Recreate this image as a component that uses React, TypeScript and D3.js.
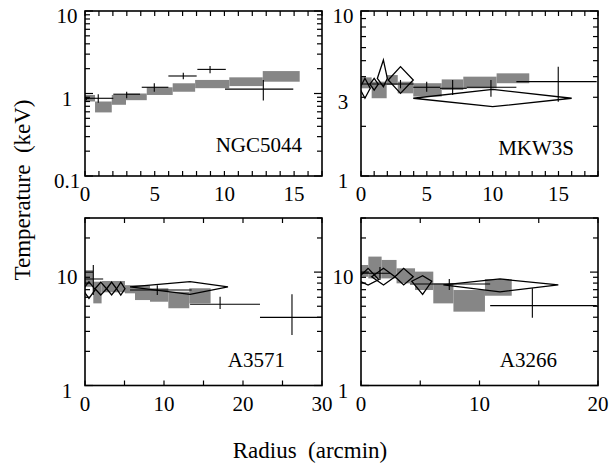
import React from 'react';
import * as d3 from 'd3';

const FONT = '"Liberation Serif", "Times New Roman", Times, serif';

type Box = { r0: number; r1: number; lo: number; hi: number };
type Cross = { r: number; r0: number; r1: number; t: number; lo: number; hi: number };
type Diamond = { r: number; r0: number; r1: number; t: number; lo: number; hi: number };

// ---------- NGC5044 ----------
const ngc5044Boxes: Box[] = [
  { r0: 0, r1: 0.72, lo: 0.8, hi: 0.96 },
  { r0: 0.72, r1: 1.92, lo: 0.59, hi: 0.8 },
  { r0: 1.92, r1: 2.94, lo: 0.73, hi: 0.96 },
  { r0: 2.94, r1: 4.43, lo: 0.83, hi: 1.0 },
  { r0: 4.43, r1: 6.29, lo: 0.96, hi: 1.19 },
  { r0: 6.29, r1: 7.9, lo: 1.05, hi: 1.33 },
  { r0: 7.9, r1: 10.35, lo: 1.16, hi: 1.46 },
  { r0: 10.35, r1: 12.75, lo: 1.23, hi: 1.57 },
  { r0: 12.75, r1: 15.4, lo: 1.39, hi: 1.87 },
];
const ngc5044Crosses: Cross[] = [
  { r: 0.1, r0: 0, r1: 0.3, t: 0.87, lo: 0.83, hi: 0.91 },
  { r: 0.95, r0: 0, r1: 2.03, t: 0.875, lo: 0.77, hi: 0.98 },
  { r: 2.99, r0: 2.03, r1: 3.95, t: 0.98, lo: 0.875, hi: 1.05 },
  { r: 4.97, r0: 4.07, r1: 5.98, t: 1.19, lo: 1.05, hi: 1.33 },
  { r: 7.05, r0: 5.98, r1: 8.01, t: 1.63, lo: 1.49, hi: 1.79 },
  { r: 8.97, r0: 8.06, r1: 10.1, t: 1.96, lo: 1.76, hi: 2.15 },
  { r: 12.79, r0: 10.04, r1: 14.94, t: 1.13, lo: 0.82, hi: 1.46 },
];
const ngc5044Diamonds: Diamond[] = [];

// ---------- MKW3S ----------
const mkw3sBoxes: Box[] = [
  { r0: 0, r1: 0.81, lo: 3.4, hi: 3.96 },
  { r0: 0.81, r1: 1.95, lo: 2.96, hi: 3.73 },
  { r0: 1.95, r1: 2.79, lo: 3.56, hi: 4.09 },
  { r0: 2.79, r1: 3.97, lo: 3.17, hi: 3.73 },
  { r0: 3.97, r1: 6.13, lo: 3.03, hi: 3.65 },
  { r0: 6.13, r1: 7.77, lo: 3.32, hi: 3.85 },
  { r0: 7.77, r1: 10.3, lo: 3.4, hi: 4.0 },
  { r0: 10.3, r1: 12.78, lo: 3.65, hi: 4.19 },
];
const mkw3sCrosses: Cross[] = [
  { r: 3.0, r0: 0, r1: 4.0, t: 3.61, lo: 3.4, hi: 3.82 },
  { r: 4.99, r0: 3.97, r1: 6.0, t: 3.45, lo: 3.24, hi: 3.73 },
  { r: 6.96, r0: 6.0, r1: 8.03, t: 3.4, lo: 3.1, hi: 3.82 },
  { r: 9.87, r0: 8.03, r1: 11.8, t: 3.45, lo: 3.02, hi: 3.82 },
  { r: 14.98, r0: 11.8, r1: 17.9, t: 3.73, lo: 2.82, hi: 4.6 },
];
const mkw3sDiamonds: Diamond[] = [
  { r: 0.3, r0: -0.1, r1: 0.7, t: 3.4, lo: 2.96, hi: 3.91 },
  { r: 1.0, r0: 0.68, r1: 1.31, t: 3.6, lo: 3.32, hi: 3.91 },
  { r: 1.7, r0: 1.24, r1: 2.0, t: 3.9, lo: 3.48, hi: 5.05 },
  { r: 3.0, r0: 2.07, r1: 3.97, t: 3.82, lo: 3.17, hi: 4.6 },
  { r: 10.0, r0: 3.97, r1: 16.0, t: 2.96, lo: 2.63, hi: 3.35 },
];

// ---------- A3571 ----------
const a3571Boxes: Box[] = [
  { r0: 0, r1: 1.05, lo: 7.43, hi: 10.4 },
  { r0: 1.05, r1: 2.1, lo: 5.3, hi: 8.23 },
  { r0: 2.1, r1: 5.06, lo: 6.64, hi: 8.35 },
  { r0: 5.06, r1: 6.33, lo: 6.5, hi: 7.67 },
  { r0: 6.33, r1: 8.23, lo: 5.67, hi: 7.67 },
  { r0: 8.23, r1: 10.55, lo: 5.48, hi: 7.2 },
  { r0: 10.55, r1: 13.2, lo: 4.8, hi: 6.71 },
  { r0: 13.2, r1: 15.9, lo: 5.3, hi: 7.2 },
];
const a3571Crosses: Cross[] = [
  { r: 1.05, r0: 0, r1: 2.3, t: 8.7, lo: 6.28, hi: 11.55 },
  { r: 9.15, r0: 5.7, r1: 13.5, t: 6.95, lo: 6.28, hi: 7.67 },
  { r: 17.1, r0: 13.3, r1: 22.15, t: 5.2, lo: 4.72, hi: 6.07 },
  { r: 26.2, r0: 22.15, r1: 31, t: 3.99, lo: 2.79, hi: 6.37 },
];
const a3571Diamonds: Diamond[] = [
  { r: 0.5, r0: -0.3, r1: 1.3, t: 7.0, lo: 5.87, hi: 8.23 },
  { r: 2.0, r0: 1.27, r1: 2.74, t: 7.13, lo: 6.28, hi: 8.15 },
  { r: 3.37, r0: 2.74, r1: 4.0, t: 7.13, lo: 6.28, hi: 8.15 },
  { r: 4.53, r0: 4.0, r1: 5.06, t: 7.13, lo: 6.28, hi: 8.15 },
  { r: 13.3, r0: 5.7, r1: 18.1, t: 7.4, lo: 6.37, hi: 8.23 },
];

// ---------- A3266 ----------
const a3266Boxes: Box[] = [
  { r0: 0, r1: 0.62, lo: 9.1, hi: 11.55 },
  { r0: 0.62, r1: 1.74, lo: 8.8, hi: 13.7 },
  { r0: 1.74, r1: 3.0, lo: 8.8, hi: 12.8 },
  { r0: 3.0, r1: 4.56, lo: 7.96, hi: 10.8 },
  { r0: 4.56, r1: 6.1, lo: 6.95, hi: 10.1 },
  { r0: 6.1, r1: 7.8, lo: 5.3, hi: 7.96 },
  { r0: 7.8, r1: 10.46, lo: 4.48, hi: 6.95 },
  { r0: 10.46, r1: 12.72, lo: 6.19, hi: 8.69 },
];
const a3266Crosses: Cross[] = [
  { r: 1.6, r0: 0, r1: 2.45, t: 9.76, lo: 8.5, hi: 11.1 },
  { r: 7.45, r0: 4.14, r1: 10.9, t: 7.85, lo: 6.95, hi: 8.7 },
  { r: 14.46, r0: 10.9, r1: 19.9, t: 5.06, lo: 3.96, hi: 7.2 },
];
const a3266Diamonds: Diamond[] = [
  { r: 0.6, r0: -0.4, r1: 1.5, t: 8.6, lo: 7.7, hi: 10.8 },
  { r: 1.9, r0: 0.9, r1: 2.87, t: 9.1, lo: 7.7, hi: 10.8 },
  { r: 3.6, r0: 2.87, r1: 4.41, t: 9.1, lo: 7.7, hi: 10.8 },
  { r: 5.2, r0: 4.28, r1: 5.97, t: 8.3, lo: 6.37, hi: 9.3 },
  { r: 11.73, r0: 6.95, r1: 16.65, t: 7.7, lo: 6.7, hi: 8.7 },
];

// ---------- axes ----------
const ngc5044XLabels = [0, 5, 10, 15];
const mkw3sXLabels = [0, 5, 10, 15];
const a3571XLabels = [0, 10, 20, 30];
const a3266XLabels = [0, 10, 20];
const ngc5044YLabels = [10, 1, 0.1];
const mkw3sYLabels = [10, 3, 1];
const a3571YLabels = [10, 1];
const a3266YLabels = [10, 1];

type Panel = {
  name: string;
  left: number; top: number; width: number; height: number;
  xDomain: [number, number]; yDomain: [number, number];
  xStep: number; xLabels: number[]; yLabels: number[];
  boxes: Box[]; crosses: Cross[]; diamonds: Diamond[];
  nameX: number; nameY: number;
};

const panels: Panel[] = [
  { name: 'NGC5044', left: 85, top: 11, width: 237, height: 165, xDomain: [0, 17], yDomain: [0.1, 10], xStep: 1,
    xLabels: ngc5044XLabels, yLabels: ngc5044YLabels, boxes: ngc5044Boxes, crosses: ngc5044Crosses, diamonds: ngc5044Diamonds,
    nameX: 302, nameY: 152 },
  { name: 'MKW3S', left: 361, top: 11, width: 237, height: 165, xDomain: [0, 18], yDomain: [1, 10], xStep: 1,
    xLabels: mkw3sXLabels, yLabels: mkw3sYLabels, boxes: mkw3sBoxes, crosses: mkw3sCrosses, diamonds: mkw3sDiamonds,
    nameX: 574, nameY: 155 },
  { name: 'A3571', left: 85, top: 218, width: 237, height: 167.5, xDomain: [0, 30], yDomain: [1, 30], xStep: 5,
    xLabels: a3571XLabels, yLabels: a3571YLabels, boxes: a3571Boxes, crosses: a3571Crosses, diamonds: a3571Diamonds,
    nameX: 285, nameY: 367 },
  { name: 'A3266', left: 361, top: 218, width: 237, height: 167.5, xDomain: [0, 20], yDomain: [1, 30], xStep: 5,
    xLabels: a3266XLabels, yLabels: a3266YLabels, boxes: a3266Boxes, crosses: a3266Crosses, diamonds: a3266Diamonds,
    nameX: 557, nameY: 367 },
];

function logTicks(lo: number, hi: number) {
  const out: { v: number; major: boolean }[] = [];
  for (let d = Math.floor(Math.log10(lo)); d <= Math.ceil(Math.log10(hi)); d++) {
    for (let m = 1; m <= 9; m++) {
      const v = m * Math.pow(10, d);
      if (v >= lo * 0.999 && v <= hi * 1.001) out.push({ v, major: m === 1 });
    }
  }
  return out;
}

function PanelView({ p, idx }: { p: Panel; idx: number }) {
  const x = d3.scaleLinear().domain(p.xDomain).range([p.left, p.left + p.width]);
  const y = d3.scaleLog().domain(p.yDomain).range([p.top + p.height, p.top]);
  const right = p.left + p.width;
  const bottom = p.top + p.height;
  const xt = d3.range(p.xDomain[0], p.xDomain[1] + 1e-6, p.xStep);
  const yt = logTicks(p.yDomain[0], p.yDomain[1]);
  const clipId = `clip${idx}`;
  const fmt = (v: number) => (v < 1 ? String(v) : String(Math.round(v)));
  return (
    <g>
      <defs>
        <clipPath id={clipId}>
          <rect x={p.left} y={p.top} width={p.width} height={p.height} />
        </clipPath>
      </defs>
      <g clipPath={`url(#${clipId})`}>
        {p.boxes.map((b, i) => (
          <rect key={'b' + i} x={x(b.r0)} y={y(b.hi)} width={x(b.r1) - x(b.r0)} height={y(b.lo) - y(b.hi)} fill="#868686" />
        ))}
        {p.diamonds.map((d, i) => (
          <path key={'d' + i}
            d={`M${x(d.r0)},${y(d.t)}L${x(d.r)},${y(d.hi)}L${x(d.r1)},${y(d.t)}L${x(d.r)},${y(d.lo)}Z`}
            fill="none" stroke="#000" strokeWidth={1.3} strokeLinejoin="miter" />
        ))}
        {p.crosses.map((c, i) => (
          <g key={'c' + i} stroke="#000" strokeWidth={1.1}>
            <line x1={x(c.r0)} x2={x(c.r1)} y1={y(c.t)} y2={y(c.t)} />
            <line x1={x(c.r)} x2={x(c.r)} y1={y(c.lo)} y2={y(c.hi)} />
          </g>
        ))}
      </g>
      {/* ticks */}
      <g stroke="#000" strokeWidth={1.2}>
        {xt.map((v, i) => (
          <g key={'xt' + i}>
            <line x1={x(v)} x2={x(v)} y1={bottom} y2={bottom - 5} />
            <line x1={x(v)} x2={x(v)} y1={p.top} y2={p.top + 5} />
          </g>
        ))}
        {yt.map((t, i) => (
          <g key={'yt' + i}>
            <line x1={p.left} x2={p.left + (t.major ? 8 : 5)} y1={y(t.v)} y2={y(t.v)} />
            <line x1={right} x2={right - (t.major ? 8 : 5)} y1={y(t.v)} y2={y(t.v)} />
          </g>
        ))}
      </g>
      <rect x={p.left} y={p.top} width={p.width} height={p.height} fill="none" stroke="#000" strokeWidth={1.6} />
      {/* labels */}
      <g fontFamily={FONT} fontSize={21} fill="#000">
        {p.xLabels.map((v, i) => (
          <text key={'xl' + i} x={x(v)} y={bottom + 18} textAnchor="middle" dominantBaseline="central">{v}</text>
        ))}
        {p.yLabels.map((v, i) => (
          <text key={'yl' + i} x={p.left - 18} y={y(v) + 5} textAnchor="middle" dominantBaseline="central">{fmt(v)}</text>
        ))}
        <text x={p.nameX} y={p.nameY} textAnchor="end">{p.name}</text>
      </g>
    </g>
  );
}

export default function App() {
  return (
    <svg width={610} height={465} style={{ position: 'absolute', left: 0, top: 0, background: '#fff' }}>
      <rect width={610} height={465} fill="#fff" />
      {panels.map((p, i) => <PanelView key={i} p={p} idx={i} />)}
      <text x={310} y={450} textAnchor="middle" dominantBaseline="central" fontFamily={FONT} fontSize={23}
        style={{ whiteSpace: 'pre' }}>{'Radius  (arcmin)'}</text>
      <text transform="translate(22,190) rotate(-90)" textAnchor="middle" dominantBaseline="central" fontFamily={FONT}
        fontSize={23} style={{ whiteSpace: 'pre' }}>{'Temperature  (keV)'}</text>
    </svg>
  );
}
